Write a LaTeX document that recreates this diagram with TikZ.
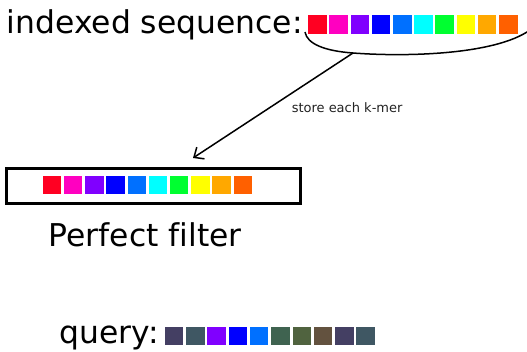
\documentclass[tikz,border=0pt]{standalone}
\usepackage{fontspec}
\setmainfont[Ligatures=NoCommon]{DejaVu Sans}
\usetikzlibrary{arrows.meta}
\definecolor{kred}{HTML}{FF0022}
\definecolor{kpink}{HTML}{FF00C0}
\definecolor{kviolet}{HTML}{8000FF}
\definecolor{kblue}{HTML}{0000FF}
\definecolor{kazure}{HTML}{0070FF}
\definecolor{kcyan}{HTML}{00FFFF}
\definecolor{kgreen}{HTML}{00FF30}
\definecolor{kyellow}{HTML}{FFFF00}
\definecolor{kamber}{HTML}{FFA800}
\definecolor{korange}{HTML}{FF6000}
\definecolor{qslate}{HTML}{443F63}
\definecolor{qteal}{HTML}{3F5763}
\definecolor{qmoss}{HTML}{3F6350}
\definecolor{qolive}{HTML}{50633F}
\definecolor{qbrown}{HTML}{63523F}
\definecolor{cink}{HTML}{222222}

\begin{document}
\begin{tikzpicture}[x=1pt, y=-1pt, line width=1.5pt,
  kmer/.style={minimum size=18.5pt, inner sep=0pt, outer sep=0pt},
  big/.style={font=\fontsize{31.4}{36}\selectfont, inner sep=0pt, anchor=base west}]
  \useasboundingbox (0,0) rectangle (527,351);
  % indexed sequence
  \node[big] (seqlabel) at (6,33) {indexed sequence:};
  \foreach \c [count=\i from 0] in {kred,kpink,kviolet,kblue,kazure,kcyan,kgreen,kyellow,kamber,korange}{
    \node[kmer,fill=\c] (seq\i) at (317.5+21.2*\i,24.5) {};}
  \coordinate (bracestart) at (305,32);
  \coordinate (store) at (353,53);
  \coordinate (braceend) at (530,30);
  \draw (bracestart) .. controls (307,44) and (325,51) .. (store)
        .. controls (405,57) and (495,55) .. (braceend);
  % arrow into the filter
  \coordinate (tip) at (193,158);
  \draw[-{Straight Barb[length=8pt,width=14pt]}] (store) -- (tip);
  \node[anchor=base west, inner sep=0pt, cink, font=\fontsize{13}{15}\selectfont] (storelabel) at (291,112.5) {store each k-mer};
  % perfect filter
  \node[draw, line width=2.6pt, minimum width=294.4pt, minimum height=35.4pt] (filter) at (153.5,186) {};
  \foreach \c [count=\i from 0] in {kred,kpink,kviolet,kblue,kazure,kcyan,kgreen,kyellow,kamber,korange}{
    \node[kmer,fill=\c] (pf\i) at (52+21.2*\i,185) {};}
  \node[big] (filterlabel) at (48,246) {Perfect filter};
  % query
  \node[big] (querylabel) at (59,343.5) {query:};
  \foreach \c [count=\i from 0] in {qslate,qteal,kviolet,kblue,kazure,qmoss,qolive,qbrown,qslate,qteal}{
    \node[kmer,fill=\c] (q\i) at (174+21.3*\i,336) {};}
\end{tikzpicture}
\end{document}
